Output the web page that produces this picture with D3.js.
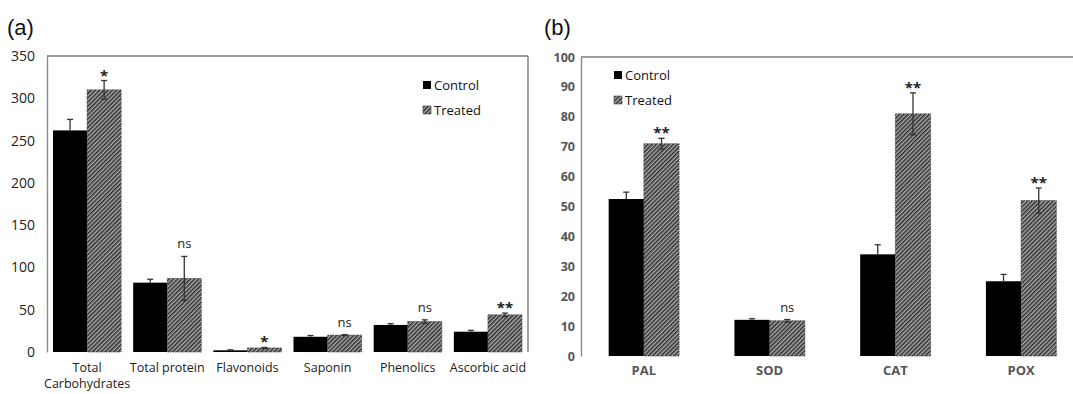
<!DOCTYPE html>
<html>
<head>
<meta charset="utf-8">
<script src="https://cdn.jsdelivr.net/npm/d3@7"></script>
<style>
  body { margin: 0; background: #fff; }
  svg { display: block; }
</style>
</head>
<body>
<script>
const width = 1073;
const height = 394;

// panel (a)
const catsA = ["Total Carbohydrates", "Total protein", "Flavonoids", "Saponin", "Phenolics", "Ascorbic acid"];
const controlA = [262, 82, 2, 18, 32, 24];
const controlErrA = [13, 4, 0.6, 1.5, 1.5, 1.6];
const treatedA = [310, 87, 4.8, 20, 36, 44];
const treatedErrA = [11, 26, 0.6, 0.5, 2, 2];
const sigA = ["*", "ns", "*", "ns", "ns", "**"];
const ticksA = [0, 50, 100, 150, 200, 250, 300, 350];

// panel (b)
const catsB = ["PAL", "SOD", "CAT", "POX"];
const controlB = [52.5, 12.1, 34, 25];
const controlErrB = [2.3, 0.4, 3.2, 2.3];
const treatedB = [71, 11.8, 81, 52];
const treatedErrB = [1.8, 0.4, 7, 4.2];
const sigB = ["**", "ns", "**", "**"];
const ticksB = [0, 10, 20, 30, 40, 50, 60, 70, 80, 90, 100];

const series = ["Control", "Treated"];

const svg = d3.select("body").append("svg")
    .attr("width", width).attr("height", height);

const defs = svg.append("defs");
const pat = defs.append("pattern").attr("id", "hatch")
    .attr("patternUnits", "userSpaceOnUse")
    .attr("width", 3).attr("height", 3)
    .attr("patternTransform", "rotate(45)");
pat.append("rect").attr("width", 3).attr("height", 3).attr("fill", "#a8a8a8");
pat.append("line").attr("x1", 0.75).attr("y1", 0).attr("x2", 0.75).attr("y2", 3)
    .attr("stroke", "#2e2e2e").attr("stroke-width", 1.5);

const fills = { Control: "#000", Treated: "url(#hatch)" };

function panel(o) {
    const g = svg.append("g");
    const x = d3.scaleBand().domain(o.cats).range(o.xRange)
        .paddingInner(o.padIn).paddingOuter(o.padIn / 2);
    const x1 = d3.scaleBand().domain(series).range([0, x.bandwidth()]);
    const y = d3.scaleLinear().domain([0, o.max]).range(o.yRange);

    // frame
    const [x0, xEnd] = o.xRange;
    const frame = g.append("g").attr("fill", "none").attr("stroke", "#7a7a7a");
    frame.append("line").attr("x1", x0).attr("x2", xEnd)
        .attr("y1", y(o.max)).attr("y2", y(o.max)).attr("stroke-width", 1.6);
    if (o.rightFrame) {
        frame.append("line").attr("x1", xEnd).attr("x2", xEnd)
            .attr("y1", y(o.max)).attr("y2", y(0)).attr("stroke-width", 1.4);
    }

    const yAxis = d3.axisLeft(y).tickValues(o.ticks).tickSize(0).tickPadding(o.tickPad);
    const ya = g.append("g").attr("transform", `translate(${x0},0)`).call(yAxis);
    ya.select(".domain").attr("stroke", "#8a8a8a").attr("stroke-width", 1.4);
    ya.selectAll("text").attr("font-family", o.tickFont).attr("font-size", o.tickSize)
        .attr("font-weight", o.tickWeight).attr("fill", o.tickColor);

    const rows = o.cats.map((c, i) => ({
        cat: c,
        vals: [
            { s: "Control", v: o.control[i], e: o.controlErr[i] },
            { s: "Treated", v: o.treated[i], e: o.treatedErr[i] }
        ],
        sig: o.sig[i]
    }));

    const grp = g.selectAll(".grp").data(rows).enter().append("g")
        .attr("transform", d => `translate(${x(d.cat)},0)`);

    grp.selectAll("rect").data(d => d.vals).enter().append("rect")
        .attr("x", d => x1(d.s))
        .attr("y", d => y(d.v))
        .attr("width", x1.bandwidth())
        .attr("height", d => y(0) - y(d.v))
        .attr("fill", d => fills[d.s])
        .attr("stroke", d => d.s === "Treated" ? "#3a3a3a" : "none")
        .attr("stroke-width", 0.8)
        .attr("stroke-dasharray", "1.5,1");

    // error bars (control bars: only the upper half shows above the black bar)
    const eb = grp.selectAll(".eb").data(d => d.vals).enter().append("g")
        .attr("stroke", "#333").attr("stroke-width", 1.3);
    const cx = d => x1(d.s) + x1.bandwidth() / 2;
    eb.append("line")
        .attr("x1", cx).attr("x2", cx)
        .attr("y1", d => y(d.v + d.e)).attr("y2", d => d.s === "Control" ? y(d.v) : y(d.v - d.e));
    eb.append("line")
        .attr("x1", d => cx(d) - 3).attr("x2", d => cx(d) + 3)
        .attr("y1", d => y(d.v + d.e)).attr("y2", d => y(d.v + d.e));
    eb.filter(d => d.s === "Treated").append("line")
        .attr("x1", d => cx(d) - 3).attr("x2", d => cx(d) + 3)
        .attr("y1", d => y(d.v - d.e)).attr("y2", d => y(d.v - d.e));

    // significance marks above treated bars
    grp.append("text")
        .attr("x", x1("Treated") + x1.bandwidth() / 2)
        .attr("y", d => y(d.vals[1].v + d.vals[1].e) - (d.sig === "ns" ? 8 : 0))
        .attr("text-anchor", "middle")
        .attr("font-family", "Open Sans, sans-serif")
        .attr("font-size", d => d.sig === "ns" ? 13 : 15)
        .attr("font-weight", d => d.sig === "ns" ? "normal" : "bold")
        .attr("fill", "#222")
        .text(d => d.sig);

    // x labels
    grp.append("text")
        .attr("x", x.bandwidth() / 2)
        .attr("y", o.labelY)
        .attr("text-anchor", "middle")
        .attr("font-family", o.labelFont)
        .attr("font-size", o.labelSize)
        .attr("font-weight", o.labelWeight)
        .attr("fill", o.labelColor)
        .selectAll("tspan").data(d => o.wrap(d.cat)).enter().append("tspan")
        .attr("x", x.bandwidth() / 2)
        .attr("dy", (d, i) => i === 0 ? 0 : 16)
        .text(d => d);

    // legend
    const leg = g.append("g").attr("transform", `translate(${o.legend[0]},${o.legend[1]})`);
    series.forEach((s, i) => {
        leg.append("rect").attr("x", 0).attr("y", i * 25 - 4).attr("width", 8).attr("height", 8)
            .attr("fill", fills[s]).attr("stroke", s === "Treated" ? "#444" : "none").attr("stroke-width", 0.6);
        leg.append("text").attr("x", 11).attr("y", i * 25 + 5)
            .attr("font-family", "Open Sans, sans-serif").attr("font-size", 13)
            .attr("fill", "#111").text(s);
    });

    // panel letter
    svg.append("text").attr("x", o.letter[0]).attr("y", o.letter[1])
        .attr("font-family", "Liberation Sans, Arial, sans-serif").attr("font-size", 22)
        .attr("fill", "#111").text(o.letterText);
}

panel({
    cats: catsA, control: controlA, controlErr: controlErrA,
    treated: treatedA, treatedErr: treatedErrA, sig: sigA,
    ticks: ticksA, max: 350,
    xRange: [47, 528], yRange: [352, 56], padIn: 0.15, rightFrame: true,
    tickPad: 12, tickFont: "Open Sans, sans-serif", tickSize: 14, tickWeight: "normal", tickColor: "#222",
    labelY: 372, labelFont: "Open Sans, sans-serif", labelSize: 12.5, labelWeight: "normal", labelColor: "#222",
    wrap: c => c === "Total Carbohydrates" ? ["Total", "Carbohydrates"] : [c],
    legend: [423, 85], letter: [7, 35], letterText: "(a)"
});

panel({
    cats: catsB, control: controlB, controlErr: controlErrB,
    treated: treatedB, treatedErr: treatedErrB, sig: sigB,
    ticks: ticksB, max: 100,
    xRange: [581, 1084], yRange: [356, 57], padIn: 0.44, rightFrame: false,
    tickPad: 6, tickFont: "Open Sans, sans-serif", tickSize: 12.5, tickWeight: "bold", tickColor: "#555",
    labelY: 375, labelFont: "Open Sans, sans-serif", labelSize: 13, labelWeight: "bold", labelColor: "#555",
    wrap: c => [c],
    legend: [614, 75], letter: [544, 35], letterText: "(b)"
});
</script>
</body>
</html>
